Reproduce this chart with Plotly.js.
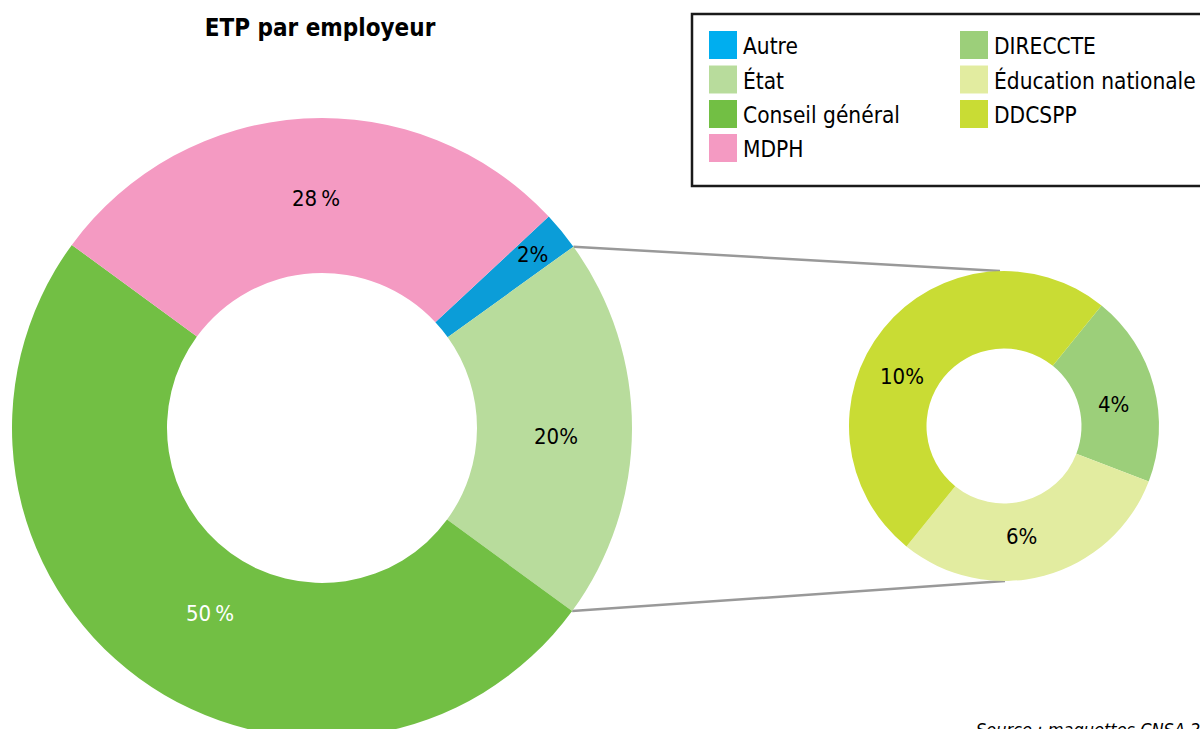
<!DOCTYPE html>
<html>
<head>
<meta charset="utf-8">
<script src="https://cdn.plot.ly/plotly-3.0.1.min.js"></script>
<style>
html,body{margin:0;padding:0;overflow:hidden;background:#fff;}
#chart{width:1200px;height:760px;}
</style>
</head>
<body>
<div id="chart"></div>
<script>
// ---- data ----
const bigLabels = ["Autre", "État", "Conseil général", "MDPH"];
const bigValues = [2, 20, 50, 28];
const bigText = ["2%", "20%", "50\u202F%", "28\u202F%"];

const smallLabels = ["DIRECCTE", "Éducation nationale", "DDCSPP"];
const smallValues = [4, 6, 10];
const smallText = ["4%", "6%", "10%"];

const titleText = "ETP par employeur";
const sourceText = "Source : maquettes CNSA 2019";

// ---- styles ----
const bigColors = ["#0b9dd8", "#b8dc9c", "#72bf44", "#f49ac2"];
const bigLegendColors = ["#00aeef", "#b8dc9c", "#72bf44", "#f49ac2"];
const smallColors = ["#9ccf7a", "#e2eca0", "#c9dc34"];
const bigTextColors = ["#000", "#000", "#fff", "#000"];
const bigLabelRadius = [0.88, 0.755, 0.70, 0.74];
const bigLabelNudge = [0, 2, -5, 2];        // degrees
const smallLabelRadius = [0.72, 0.72, 0.735];
const smallLabelNudge = [4, 6, -13];        // degrees

const W = 1200, H = 760;
const FONT = '"DejaVu Sans Condensed", "Liberation Sans Narrow", "DejaVu Sans", sans-serif';
const FONTB = '"DejaVu Sans Condensed", "DejaVu Sans", sans-serif';

const big = {cx: 322, cy: 428, R: 310, hole: 0.5, rot: 47};
const small = {cx: 1004, cy: 426, R: 155, hole: 0.5, rot: 39};

function px2x(x){ return x / W; }
function px2y(y){ return 1 - y / H; }
function domainOf(p){
  return {x: [px2x(p.cx - p.R), px2x(p.cx + p.R)], y: [px2y(p.cy + p.R), px2y(p.cy - p.R)]};
}
function sum(a){ return a.reduce((s,v)=>s+v,0); }
function angles(values, rot){
  const tot = sum(values); let a = rot; const out = [];
  values.forEach(v => { const d = v / tot * 360; out.push({start: a, end: a + d, mid: a + d/2}); a += d; });
  return out;
}
function pt(p, angDeg, r){
  const t = angDeg * Math.PI / 180;
  return {x: p.cx + r * Math.sin(t), y: p.cy - r * Math.cos(t)};
}

const traces = [
  {type: 'pie', labels: bigLabels, values: bigValues, sort: false, direction: 'clockwise',
   rotation: big.rot, hole: big.hole, domain: domainOf(big), textinfo: 'none',
   marker: {colors: bigColors, line: {width: 0}}, showlegend: false, hoverinfo: 'label+value'},
  {type: 'pie', labels: smallLabels, values: smallValues, sort: false, direction: 'clockwise',
   rotation: small.rot, hole: small.hole, domain: domainOf(small), textinfo: 'none',
   marker: {colors: smallColors, line: {width: 0}}, showlegend: false, hoverinfo: 'label+value'}
];

const annotations = [];
const shapes = [];

// slice labels
const bigAng = angles(bigValues, big.rot);
bigAng.forEach((a, i) => {
  const p = pt(big, a.mid + bigLabelNudge[i], big.R * bigLabelRadius[i]);
  annotations.push({xref: 'paper', yref: 'paper', x: px2x(p.x), y: px2y(p.y), text: bigText[i],
    showarrow: false, xanchor: 'center', yanchor: 'middle', font: {family: FONT, size: 22, color: bigTextColors[i]}});
});
const smallAng = angles(smallValues, small.rot);
smallAng.forEach((a, i) => {
  const p = pt(small, a.mid + smallLabelNudge[i], small.R * smallLabelRadius[i]);
  annotations.push({xref: 'paper', yref: 'paper', x: px2x(p.x), y: px2y(p.y), text: smallText[i],
    showarrow: false, xanchor: 'center', yanchor: 'middle', font: {family: FONT, size: 22, color: '#000'}});
});

// connector lines: État slice edges to top/bottom of small donut
const etat = bigAng[1];
const p1 = pt(big, etat.start, big.R), p2 = pt(big, etat.end, big.R);
const q1 = {x: small.cx - 4, y: small.cy - small.R}, q2 = {x: small.cx + 1, y: small.cy + small.R};
[[p1, q1], [p2, q2]].forEach(([a, b]) => {
  shapes.push({type: 'line', xref: 'paper', yref: 'paper', x0: px2x(a.x), y0: px2y(a.y), x1: px2x(b.x), y1: px2y(b.y),
    line: {color: '#999999', width: 2.5}, layer: 'below'});
});

// legend box
shapes.push({type: 'rect', xref: 'paper', yref: 'paper', x0: px2x(692), x1: px2x(1210), y0: px2y(186), y1: px2y(14),
  line: {color: '#1a1a1a', width: 2.5}, fillcolor: 'rgba(255,255,255,0)'});
const rowY = [45, 79.5, 114, 148];
function legendItem(x, y, color, label){
  shapes.push({type: 'rect', xref: 'paper', yref: 'paper', x0: px2x(x), x1: px2x(x + 28), y0: px2y(y + 14), y1: px2y(y - 14),
    line: {width: 0}, fillcolor: color});
  annotations.push({xref: 'paper', yref: 'paper', x: px2x(x + 32), y: px2y(y + 1), text: label, showarrow: false,
    xanchor: 'left', yanchor: 'middle', font: {family: FONT, size: 22.5, color: '#000'}});
}
bigLabels.forEach((l, i) => legendItem(709, rowY[i], bigLegendColors[i], l));
smallLabels.forEach((l, i) => legendItem(960, rowY[i], smallColors[i], l));

// source
annotations.push({xref: 'paper', yref: 'paper', x: px2x(974), y: px2y(717), text: '<i>' + sourceText + '</i>',
  showarrow: false, xanchor: 'left', yanchor: 'top', font: {family: FONT, size: 18, color: '#000'}});

const layout = {
  width: W, height: H,
  margin: {l: 0, r: 0, t: 0, b: 0},
  paper_bgcolor: '#fff', plot_bgcolor: '#fff',
  title: {text: '<b>' + titleText + '</b>', x: px2x(320), xanchor: 'center', y: px2y(28), yanchor: 'middle',
          font: {family: FONTB, size: 24, color: '#000'}},
  showlegend: false,
  shapes: shapes,
  annotations: annotations
};

Plotly.newPlot('chart', traces, layout, {displayModeBar: false, staticPlot: true});
</script>
</body>
</html>
